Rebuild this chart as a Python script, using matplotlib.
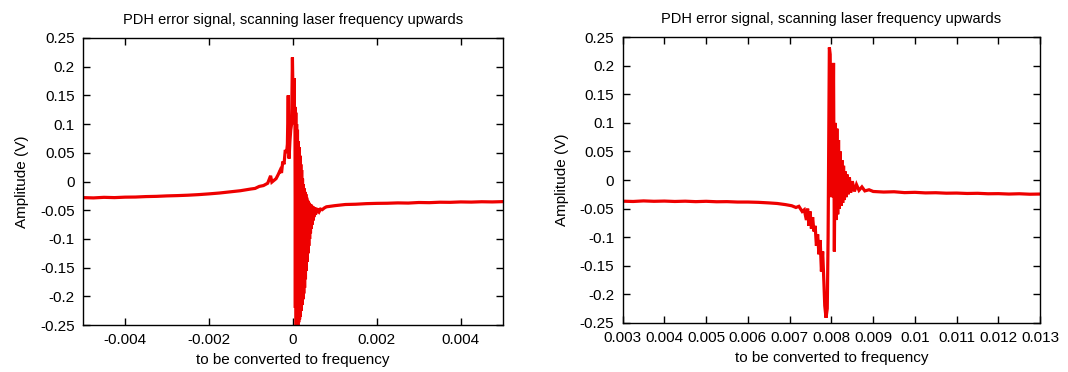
import matplotlib
matplotlib.use("Agg")
from matplotlib import pyplot as plt

plt.rcParams['font.family'] = ['Liberation Sans', 'DejaVu Sans']

# left scan
left_x = [-0.00500, -0.00475, -0.00450, -0.00425, -0.00400, -0.00375, -0.00350, -0.00325,
          -0.00300, -0.00275, -0.00250, -0.00225, -0.00200, -0.00175, -0.00150, -0.00125,
          -0.00100, -0.00090, -0.00080, -0.00070, -0.00060, -0.00053, -0.00050, -0.00045,
          -0.00040, -0.00035, -0.00030, -0.00027, -0.00024, -0.00021, -0.00018, -0.00015,
          -0.00013, -0.00011, -0.00009, -0.00007, -0.00005, -0.00003, -0.00001, 0.00001,
          0.00003, 0.00004, 0.00005,
          0.00006, 0.00007, 0.00008, 0.00009, 0.00010, 0.00011, 0.00012, 0.00013,
          0.00014, 0.00015, 0.00016, 0.00017, 0.00018, 0.00019, 0.00020, 0.00021,
          0.00022, 0.00023, 0.00024, 0.00025, 0.00026, 0.00027, 0.00028, 0.00029,
          0.00030, 0.00031, 0.00032, 0.00033, 0.00034, 0.00035, 0.00036, 0.00037,
          0.00038, 0.00039, 0.00040, 0.00041, 0.00042, 0.00043, 0.00044, 0.00045,
          0.00046, 0.00047, 0.00048, 0.00049, 0.00050, 0.00052, 0.00054, 0.00056,
          0.00058, 0.00060, 0.00063, 0.00066, 0.00070, 0.00075,
          0.00080, 0.00090, 0.00100, 0.00125, 0.00150, 0.00175, 0.00200, 0.00225,
          0.00250, 0.00275, 0.00300, 0.00325, 0.00350, 0.00375, 0.00400, 0.00425,
          0.00450, 0.00475, 0.00500]
left_y = [-0.0280, -0.0285, -0.0275, -0.0280, -0.0272, -0.0270, -0.0262, -0.0258,
          -0.0250, -0.0245, -0.0238, -0.0228, -0.0215, -0.0200, -0.0180, -0.0160,
          -0.0130, -0.0120, -0.0085, -0.0070, -0.0030, 0.0100, -0.0010, 0.0020,
          0.0050, 0.0120, 0.0200, 0.0150, 0.0350, 0.0300, 0.0550, 0.0500,
          0.0650, 0.1500, 0.0400, 0.0700, 0.0900, 0.1000, 0.2160, 0.1200,
          0.1800, 0.1000, 0.1300,
          -0.2200, 0.1200, -0.2500, 0.1000, -0.2500, 0.0900, -0.2500, 0.0700,
          -0.2450, 0.0600, -0.2400, 0.0450, -0.2350, 0.0300, -0.2250, 0.0200,
          -0.2150, 0.0050, -0.2050, -0.0050, -0.1950, -0.0120, -0.1850, -0.0180,
          -0.1700, -0.0220, -0.1550, -0.0280, -0.1400, -0.0320, -0.1250, -0.0350,
          -0.1120, -0.0370, -0.1000, -0.0390, -0.0900, -0.0400, -0.0820, -0.0420,
          -0.0750, -0.0430, -0.0680, -0.0440, -0.0620, -0.0450, -0.0580, -0.0460,
          -0.0550, -0.0470, -0.0520, -0.0480, -0.0490, -0.0460,
          -0.0440, -0.0430, -0.0420, -0.0400, -0.0395, -0.0385, -0.0380, -0.0378,
          -0.0372, -0.0375, -0.0365, -0.0368, -0.0360, -0.0362, -0.0355, -0.0358,
          -0.0352, -0.0355, -0.0350]

# right scan
right_x = [0.00300, 0.00325, 0.00350, 0.00375, 0.00400, 0.00425, 0.00450, 0.00475,
           0.00500, 0.00525, 0.00550, 0.00575, 0.00600, 0.00625, 0.00650, 0.00670,
           0.00690, 0.00705, 0.00715, 0.00722, 0.00730, 0.00735, 0.00740, 0.00743,
           0.00746, 0.00749, 0.00752, 0.00755, 0.00758, 0.00761, 0.00764, 0.00767,
           0.00770, 0.00773, 0.00776, 0.00779, 0.00782, 0.00784, 0.00787, 0.00790,
           0.00792, 0.00795, 0.00797, 0.00800, 0.00803, 0.00805, 0.00807, 0.00809,
           0.00811, 0.00813, 0.00815, 0.00817, 0.00819, 0.00821, 0.00823, 0.00825,
           0.00827, 0.00829, 0.00831, 0.00833, 0.00835, 0.00837, 0.00840, 0.00843,
           0.00846, 0.00850, 0.00855, 0.00860, 0.00866, 0.00873, 0.00880, 0.00890,
           0.00900, 0.00925, 0.00950, 0.00975, 0.01000, 0.01025, 0.01050, 0.01075,
           0.01100, 0.01125, 0.01150, 0.01175, 0.01200, 0.01225, 0.01250, 0.01275,
           0.01300]
right_y = [-0.0370, -0.0375, -0.0365, -0.0372, -0.0368, -0.0375, -0.0370, -0.0378,
           -0.0372, -0.0380, -0.0378, -0.0385, -0.0385, -0.0390, -0.0400, -0.0410,
           -0.0430, -0.0450, -0.0480, -0.0460, -0.0550, -0.0520, -0.0700, -0.0500,
           -0.0800, -0.0550, -0.0850, -0.0650, -0.0900, -0.0800, -0.1150, -0.0950,
           -0.1300, -0.1050, -0.1600, -0.1250, -0.1800, -0.2200, -0.2410, -0.2250,
           -0.1000, 0.2320, 0.2200, -0.0300, -0.0100, 0.2050, -0.1250, 0.1000,
           -0.0700, 0.0900, -0.0600, 0.0700, -0.0500, 0.0500, -0.0450, 0.0350,
           -0.0400, 0.0250, -0.0350, 0.0150, -0.0300, 0.0100, -0.0250, 0.0050,
           -0.0220, -0.0020, -0.0200, -0.0080, -0.0180, -0.0120, -0.0190, -0.0170,
           -0.0200, -0.0210, -0.0205, -0.0220, -0.0215, -0.0225, -0.0222, -0.0230,
           -0.0228, -0.0235, -0.0232, -0.0240, -0.0238, -0.0245, -0.0240, -0.0248,
           -0.0245]

y_ticks = [-0.25, -0.2, -0.15, -0.1, -0.05, 0, 0.05, 0.1, 0.15, 0.2, 0.25]
y_labels = ['-0.25', '-0.2', '-0.15', '-0.1', '-0.05', '0', '0.05', '0.1', '0.15', '0.2', '0.25']
left_ticks = [-0.004, -0.002, 0, 0.002, 0.004]
left_labels = ['-0.004', '-0.002', '0', '0.002', '0.004']
right_ticks = [0.003, 0.004, 0.005, 0.006, 0.007, 0.008, 0.009, 0.01, 0.011, 0.012, 0.013]
right_labels = ['0.003', '0.004', '0.005', '0.006', '0.007', '0.008', '0.009', '0.01',
                '0.011', '0.012', '0.013']

title = 'PDH error signal, scanning laser frequency upwards'
red = '#ee0000'

fig = plt.figure(figsize=(10.68, 3.72), dpi=100)
ax1 = fig.add_axes([0.0777, 0.126, 0.393, 0.772])
ax2 = fig.add_axes([0.583, 0.132, 0.391, 0.768])

panels = [(ax1, left_x, left_y, (-0.005, 0.005), left_ticks, left_labels),
          (ax2, right_x, right_y, (0.003, 0.013), right_ticks, right_labels)]

for ax, xs, ys, xlim, xt, xl in panels:
    ax.plot(xs, ys, color=red, lw=2.3, solid_joinstyle='miter')
    ax.set_xlim(*xlim)
    ax.set_ylim(-0.25, 0.25)
    ax.set_xticks(xt)
    ax.set_xticklabels(xl)
    ax.set_yticks(y_ticks)
    ax.set_yticklabels(y_labels)
    ax.tick_params(direction='in', top=True, right=True, length=5, width=1,
                   labelsize=11, pad=6)
    for s in ax.spines.values():
        s.set_linewidth(1)
    ax.set_title(title, fontsize=10.5, pad=10)
    ax.set_xlabel('to be converted to frequency', fontsize=11, labelpad=4)
    ax.set_ylabel('Amplitude (V)', fontsize=11, labelpad=8)

fig.savefig('out.png', dpi=100)
